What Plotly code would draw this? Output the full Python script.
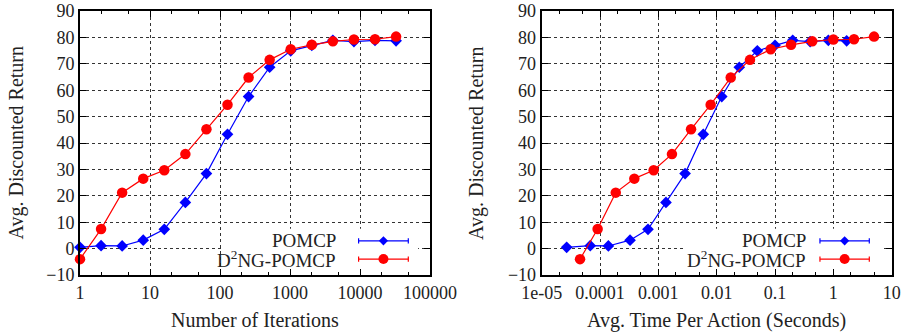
import plotly.graph_objects as go

# ---- data ----
iterations = [1, 2, 4, 8, 16, 32, 64, 128, 256, 512, 1024, 2048, 4096, 8192, 16384, 32768]
pomcp_return = [0.5, 1.1, 1.0, 3.2, 7.3, 17.5, 28.4, 43.3, 57.6, 68.7, 74.9, 77.0, 78.9, 78.4, 78.9, 78.7]
d2ng_return = [-4.0, 7.4, 21.2, 26.5, 29.7, 35.8, 45.2, 54.5, 64.8, 71.5, 75.5, 77.2, 78.5, 79.2, 79.3, 80.3]
pomcp_time = [2.68e-5, 6.8e-5, 1.39e-4, 3.27e-4, 6.64e-4, 1.35e-3, 2.87e-3, 5.89e-3,
              0.0122, 0.0244, 0.0497, 0.100, 0.201, 0.40, 0.82, 1.69]
d2ng_time = [4.54e-5, 9.1e-5, 1.86e-4, 3.87e-4, 8.3e-4, 1.71e-3, 3.63e-3, 7.88e-3,
             0.0174, 0.0372, 0.0843, 0.188, 0.435, 1.0, 2.26, 4.98]

iter_tickvals = [1, 10, 100, 1000, 10000, 100000]
iter_ticktext = ["1", "10", "100", "1000", "10000", "100000"]
time_tickvals = [1e-5, 1e-4, 1e-3, 1e-2, 1e-1, 1, 10]
time_ticktext = ["1e-05", "0.0001", "0.001", "0.01", "0.1", "1", "10"]
y_tickvals = list(range(-10, 91, 10))

series_names = ["POMCP", "D<sup>2</sup>NG-POMCP"]
BLUE = "#0000ff"
RED = "#ff0000"
FONT = "Liberation Serif"
FS = 18
FS_TITLE = 20
FS_KEY = 19
TXT = "#222222"

W, H = 903, 336
MT, MB = 11, 61
fig = go.Figure()

for xs, ys, name, col, sym, sz, xa, ya in [
    (iterations, pomcp_return, series_names[0], BLUE, "diamond", 9, "x", "y"),
    (iterations, d2ng_return, series_names[1], RED, "circle", 10.5, "x", "y"),
    (pomcp_time, pomcp_return, series_names[0], BLUE, "diamond", 9, "x2", "y2"),
    (d2ng_time, d2ng_return, series_names[1], RED, "circle", 10.5, "x2", "y2"),
]:
    fig.add_trace(go.Scatter(x=xs, y=ys, mode="lines+markers", name=name,
                             line=dict(color=col, width=1.2),
                             marker=dict(symbol=sym, size=sz, color=col, line=dict(width=0)),
                             xaxis=xa, yaxis=ya, cliponaxis=False, showlegend=False))

dom1 = [80 / W, 430 / W]
dom2 = [541.7 / W, 891.7 / W]

common_x = dict(type="log", showline=True, linewidth=2, linecolor="black", mirror="allticks",
                ticks="inside", ticklen=6, tickwidth=1, tickcolor="black",
                showgrid=True, gridcolor="#333333", griddash="dot", gridwidth=1,
                minor=dict(ticks="inside", ticklen=3, tickcolor="black", showgrid=False),
                tickfont=dict(family=FONT, size=FS, color=TXT), zeroline=False,
                automargin=False)
common_y = dict(range=[-10, 90], tickvals=y_tickvals, showline=True, linewidth=2,
                linecolor="black", mirror="allticks", ticks="inside", ticklen=6,
                tickcolor="black", showgrid=True, gridcolor="#333333", griddash="dot",
                gridwidth=1, zeroline=False, tickfont=dict(family=FONT, size=FS, color=TXT),
                automargin=False)

fig.update_layout(
    width=W, height=H, margin=dict(l=0, r=0, t=MT, b=MB),
    paper_bgcolor="white", plot_bgcolor="white", showlegend=False,
    xaxis=dict(domain=dom1, range=[0, 5], tickvals=iter_tickvals, ticktext=iter_ticktext,
               anchor="y", **common_x),
    yaxis=dict(domain=[0, 1], anchor="x", **common_y),
    xaxis2=dict(domain=dom2, range=[-5, 1], tickvals=time_tickvals, ticktext=time_ticktext,
                anchor="y2", **common_x),
    yaxis2=dict(domain=[0, 1], anchor="x2", **common_y),
)

ph = H - MT - MB
def py2paper(py):
    return (H - MB - py) / ph

ann = []
for cx, txt in [((dom1[0] + dom1[1]) / 2, "Number of Iterations"),
                ((dom2[0] + dom2[1]) / 2, "Avg. Time Per Action (Seconds)")]:
    ann.append(dict(x=cx, y=py2paper(320), xref="paper", yref="paper", text=txt,
                    showarrow=False, xanchor="center", yanchor="middle",
                    font=dict(family=FONT, size=FS_TITLE, color=TXT)))
for px in [15.5, 476]:
    ann.append(dict(x=px / W, y=0.5, xref="paper", yref="paper", text="Avg. Discounted Return",
                    textangle=-90, showarrow=False, xanchor="center", yanchor="middle",
                    font=dict(family=FONT, size=FS_TITLE, color=TXT)))

# custom keys (gnuplot style)
shapes = []
keys = [
    # xref, yref, box x0, box x1, text right, line x0, line x1
    ("x domain", "y domain", 0.403, 0.966, 0.738, 0.796, 0.938),
    ("x2 domain", "y2 domain", 0.404, 0.978, 0.760, 0.795, 0.936),
]
key_rows = [(0.1296, series_names[0], BLUE, "diamond"), (0.0605, series_names[1], RED, "circle")]
cap = 2.6 / ph
for xr, yr, bx0, bx1, tr, lx0, lx1 in keys:
    shapes.append(dict(type="rect", xref=xr, yref=yr, x0=bx0, x1=bx1, y0=0.03, y1=0.175,
                       fillcolor="white", line=dict(width=0), layer="above"))
    for yy, name, col, sym in key_rows:
        ann.append(dict(x=tr, y=yy, xref=xr, yref=yr, text=name, showarrow=False,
                        xanchor="right", yanchor="middle",
                        font=dict(family=FONT, size=FS_KEY, color=TXT)))
        shapes.append(dict(type="line", xref=xr, yref=yr, x0=lx0, x1=lx1, y0=yy, y1=yy,
                           line=dict(color=col, width=1.2), layer="above"))
        for cx in (lx0, lx1):
            shapes.append(dict(type="line", xref=xr, yref=yr, x0=cx, x1=cx, y0=yy - cap,
                               y1=yy + cap, line=dict(color=col, width=1.2), layer="above"))
        mx = (lx0 + lx1) / 2
        if sym == "circle":
            shapes.append(dict(type="circle", xref=xr, yref=yr, xsizemode="pixel",
                               ysizemode="pixel", xanchor=mx, yanchor=yy, x0=-5, x1=5,
                               y0=-5, y1=5, fillcolor=col, line=dict(width=0), layer="above"))
        else:
            shapes.append(dict(type="path", xref=xr, yref=yr, xsizemode="pixel",
                               ysizemode="pixel", xanchor=mx, yanchor=yy,
                               path="M 0 4.6 L 4.6 0 L 0 -4.6 L -4.6 0 Z",
                               fillcolor=col, line=dict(width=0), layer="above"))

fig.update_layout(annotations=ann, shapes=shapes)
fig.write_html("out.html", config={"displayModeBar": False},
               post_script="document.body.style.margin='0';document.body.style.overflow='hidden';")
